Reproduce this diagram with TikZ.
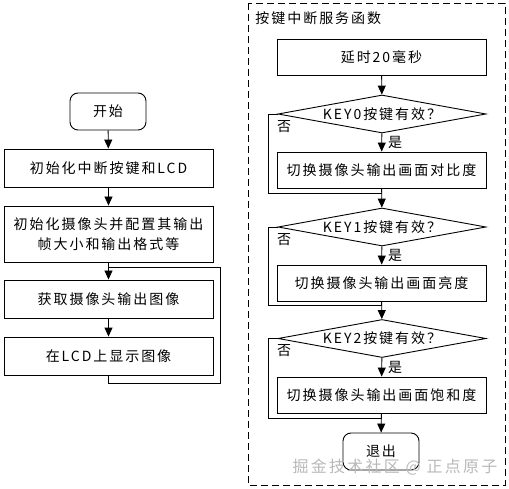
\documentclass[tikz,border=0pt]{standalone}
\usepackage{fontspec}
\setmainfont{Noto Sans CJK SC}[LetterSpace=14]
\usetikzlibrary{shapes.geometric,arrows.meta}
\tikzset{
  proc/.style={draw,minimum width=209pt,minimum height=36pt,inner sep=0pt,align=center},
  term/.style={draw,rounded corners=8pt,minimum width=76pt,minimum height=37pt},
  cond/.style={draw,diamond,aspect=5.5,minimum width=208pt,minimum height=38pt,inner sep=0pt},
  flow/.style={-{Triangle[length=9pt,width=8pt]}},
  lbl/.style={inner sep=1pt},
}
\newcommand{\ver}[2]{\coordinate (#1) at (#2);}
\begin{document}
\begin{tikzpicture}[x=1pt,y=-1pt,line width=0.9pt,font=\fontsize{14pt}{20pt}\selectfont]
    \useasboundingbox (0,0) rectangle (509,489);
    \node[term] (start) at (108,111.5) {开始};
    \node[proc,minimum height=38pt] (init) at (108.5,168) {初始化中断按键和LCD};
    \node[proc,minimum height=56pt] (cam) at (108.5,234) {初始化摄像头并配置其输出\\帧大小和输出格式等};
    \node[proc,minimum height=38pt] (grab) at (108.5,299) {获取摄像头输出图像};
    \node[proc,minimum height=38pt] (show) at (108.5,356) {在LCD上显示图像};
    \ver{loopa}{220,383}
    \ver{loopb}{220,267}
    \draw[flow] (start) -- (init);
    \draw[flow] (init) -- (cam);
    \draw[flow] (cam) -- (grab);
    \draw[flow] (grab) -- (show);
    \draw (show.south) |- (loopa) -- (loopb) -- (loopb -| grab.north);
    \draw[dash pattern=on 7pt off 4pt] (248,3) rectangle (505,485);
    \node[anchor=west,inner sep=0pt] (isr) at (255,18) {按键中断服务函数};
    \node[proc] (delay) at (381.5,57) {延时20毫秒};
    \node[cond] (k0) at (382,114) {KEY0按键有效？};
    \node[proc] (b0) at (381.5,170) {切换摄像头输出画面对比度};
    \node[cond] (k1) at (382,227) {KEY1按键有效？};
    \node[proc] (b1) at (381.5,283) {切换摄像头输出画面亮度};
    \node[cond] (k2) at (382,338.5) {KEY2按键有效？};
    \node[proc] (b2) at (381.5,395) {切换摄像头输出画面饱和度};
    \node[term] (quit) at (381,451.5) {退出};
    \ver{n0}{268,193}
    \ver{n1}{268,305}
    \ver{n2}{268,418}
    \draw[flow] (delay) -- (k0);
    \draw[flow] (k0) -- node[lbl,right=5pt]{是} (b0);
    \draw[flow] (b0) -- (k1);
    \draw[flow] (k1) -- node[lbl,right=5pt]{是} (b1);
    \draw[flow] (b1) -- (k2);
    \draw[flow] (k2) -- node[lbl,right=5pt]{是} (b2);
    \draw[flow] (b2) -- (quit);
    \draw (k0.west) -| (n0) -- (n0 -| b0.south);
    \draw (k1.west) -| (n1) -- (n1 -| b1.south);
    \draw (k2.west) -| (n2) -- (n2 -| b2.south);
    \node[lbl,anchor=north west] at ([xshift=-2pt,yshift=-5pt]k0.west) {否};
    \node[lbl,anchor=north west] at ([xshift=-2pt,yshift=-5pt]k1.west) {否};
    \node[lbl,anchor=north west] at ([xshift=-2pt,yshift=-5pt]k2.west) {否};
    \node[text=gray!55,font=\fontsize{16pt}{16pt}\selectfont] (wm) at (395,467) {掘金技术社区 @ 正点原子};
\end{tikzpicture}
\end{document}
